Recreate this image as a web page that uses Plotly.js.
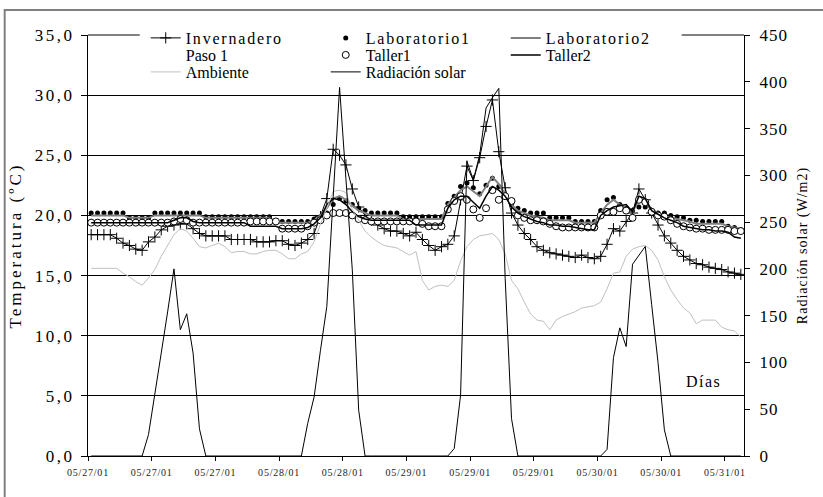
<!DOCTYPE html>
<html>
<head>
<meta charset="utf-8">
<script src="https://cdn.plot.ly/plotly-3.0.1.min.js"></script>
<style>
  html, body { margin: 0; padding: 0; background: #fff; }
  .ytick text { letter-spacing: 2.5px; }
  .y2tick text { letter-spacing: 1px; }
  .xtick text { letter-spacing: 0.8px; }
  .legendtext { letter-spacing: 1.8px; }
  .ytitle { letter-spacing: 3px; }
  .y2title { letter-spacing: 1px; }
  .annotation-text { letter-spacing: 1.5px; }
</style>
</head>
<body>
<div id="chart" style="width:823px;height:497px;"></div>
<script>
// Tick labels of the category axis (one every 10 hourly readings)
const tickPositions = [0, 10, 20, 30, 40, 50, 60, 70, 80, 90, 100];
const tickLabels = ["05/27/01","05/27/01","05/27/01","05/28/01","05/28/01","05/29/01",
                    "05/29/01","05/29/01","05/30/01","05/30/01","05/31/01"];

const invernadero = [
  18.4,18.4,18.4,18.4,18.1,17.7,17.5,17.2,17.1,17.8,
  18.2,18.8,19.1,19.2,19.3,19.3,18.9,18.5,18.3,18.3,
  18.3,18.3,18.0,18.0,18.0,18.0,17.8,17.8,17.8,17.9,
  17.9,17.6,17.5,17.7,18.0,18.5,19.9,21.4,25.5,25.0,
  24.2,22.2,20.7,20.0,19.6,19.2,18.9,18.7,18.7,18.5,
  18.3,18.6,18.0,17.5,17.1,17.4,17.6,18.3,21.3,24.1,
  22.9,24.8,27.4,29.6,25.3,22.3,20.2,19.2,18.5,18.0,
  17.4,17.1,16.9,16.8,16.7,16.6,16.5,16.7,16.5,16.4,
  16.6,17.6,18.9,18.7,19.5,20.2,22.2,21.3,20.2,19.2,
  18.3,17.7,17.1,16.6,16.3,16.0,15.9,15.7,15.6,15.5,
  15.3,15.2,15.1];

const laboratorio1 = [
  20.2,20.2,20.2,20.2,20.2,20.2,19.8,19.8,19.8,19.8,
  20.2,20.2,20.2,20.2,20.2,20.2,20.2,20.2,19.9,19.9,
  19.9,19.9,19.9,19.9,19.9,19.9,19.9,19.9,19.9,19.5,
  19.5,19.5,19.5,19.5,19.5,19.7,19.9,20.2,20.9,21.4,
  21.2,20.9,20.6,20.4,20.2,20.2,20.2,20.2,20.2,19.9,
  19.9,19.9,19.9,19.9,19.9,19.9,21.0,21.6,22.4,22.7,
  22.3,21.8,22.5,23.1,22.4,21.6,20.9,20.6,20.4,20.2,
  20.2,20.2,19.8,19.8,19.8,19.8,19.5,19.5,19.5,19.5,
  20.4,21.3,21.5,20.9,20.6,20.4,20.7,20.7,20.4,20.2,
  20.2,20.0,19.9,19.8,19.6,19.6,19.5,19.5,19.5,19.5,
  19.1,19.0,18.8];

const laboratorio2 = [
  20.0,20.0,20.0,20.0,20.0,20.0,19.8,19.8,19.8,19.8,
  20.0,20.0,20.0,20.0,20.0,20.0,20.0,20.0,19.8,19.8,
  19.8,19.8,19.8,19.8,19.8,19.8,19.8,19.8,19.8,19.4,
  19.4,19.4,19.4,19.4,19.4,19.6,20.0,20.6,21.4,21.6,
  21.3,20.8,20.4,20.2,20.0,20.0,20.0,20.0,20.0,19.7,
  19.7,19.7,19.7,19.7,19.7,19.7,20.9,21.5,22.1,22.4,
  22.0,21.6,22.4,23.2,22.6,21.7,20.9,20.4,20.2,20.0,
  19.9,19.8,19.6,19.6,19.6,19.6,19.4,19.4,19.4,19.4,
  20.2,20.9,21.3,20.9,20.6,20.3,21.3,21.2,20.5,20.2,
  20.0,19.8,19.7,19.6,19.5,19.3,19.3,19.3,19.3,19.3,
  19.1,19.0,18.9];

// "Paso 1" has a legend entry but no visible readings in the chart
const paso1 = [null];

const taller1 = [
  19.4,19.4,19.4,19.4,19.4,19.4,19.4,19.4,19.4,19.4,
  19.4,19.4,19.4,19.5,19.7,19.6,19.4,19.4,19.4,19.4,
  19.4,19.4,19.4,19.4,19.4,19.5,19.5,19.5,19.5,19.5,
  18.9,18.9,18.9,18.9,19.1,19.4,19.6,20.0,20.2,20.2,
  20.2,20.0,19.7,19.6,19.5,19.5,19.5,19.5,19.5,19.5,
  19.5,19.5,19.3,19.1,19.1,19.1,20.5,21.2,21.6,21.3,
  20.5,19.8,20.6,22.1,21.3,21.6,21.2,20.0,19.8,19.6,
  19.6,19.5,19.3,19.1,19.0,19.0,19.0,19.0,19.0,19.0,
  20.0,20.3,20.3,20.6,20.4,19.8,21.3,21.1,20.3,20.0,
  19.9,19.6,19.3,19.1,19.0,18.9,18.9,18.8,18.8,18.8,
  18.8,18.7,18.7];

const taller2 = [
  19.4,19.4,19.4,19.4,19.4,19.4,19.4,19.4,19.4,19.4,
  19.4,19.4,19.4,19.6,19.8,19.8,19.5,19.4,19.4,19.4,
  19.4,19.4,19.4,19.4,19.4,19.1,19.1,19.1,19.1,19.1,
  18.9,18.9,18.9,18.9,19.0,19.3,19.8,20.9,21.4,21.3,
  20.9,20.3,19.9,19.7,19.6,19.6,19.6,19.6,19.6,19.6,
  19.6,19.2,19.2,19.2,19.2,19.2,20.6,21.3,21.6,21.6,
  21.1,20.6,21.6,22.4,22.1,21.6,20.7,20.2,19.9,19.7,
  19.5,19.4,19.2,19.2,19.1,19.1,19.0,18.9,18.8,18.8,
  20.0,20.4,20.7,20.8,20.9,20.3,21.6,21.4,20.4,20.1,
  19.8,19.6,19.4,19.1,19.0,18.9,18.8,18.8,18.7,18.7,
  18.6,18.2,18.1];

const ambiente = [
  15.6,15.6,15.6,15.6,15.6,15.2,14.9,14.5,14.2,14.8,
  15.5,16.6,17.5,18.4,18.9,18.7,18.1,17.4,17.3,17.5,
  17.7,17.4,16.9,17.0,17.0,16.8,16.8,17.0,17.1,17.1,
  16.8,16.4,16.4,16.8,17.0,17.8,19.3,20.6,22.0,22.1,
  21.9,20.5,19.6,18.7,18.2,17.8,17.5,17.4,17.3,17.0,
  16.7,17.0,14.6,13.8,14.1,14.2,14.1,14.6,16.2,17.4,
  18.0,18.3,18.4,18.5,18.0,16.8,14.6,13.9,12.8,11.8,
  11.3,11.2,10.5,11.3,11.6,11.8,12.0,12.3,12.4,12.5,
  12.8,13.9,15.2,15.3,16.6,17.2,17.4,17.5,17.1,16.3,
  14.9,13.8,13.0,12.3,11.9,11.0,11.3,11.3,11.3,10.7,
  10.5,10.4,9.9];

const radiacion = [
  0,0,0,0,0,0,0,0,0,23,
  65,110,154,200,135,152,110,29,0,0,
  0,0,0,0,0,0,0,0,0,0,
  0,0,0,0,35,63,113,160,277,394,
  296,199,49,0,0,0,0,0,0,0,
  0,0,0,0,0,0,0,8,65,315,
  295,322,372,383,393,190,40,0,0,0,
  0,0,0,0,0,0,0,0,0,0,
  0,7,105,137,117,205,215,224,162,100,
  28,0,0,0,0,0,0,0,0,0,
  0,0,0];

// category positions (reading i sits in the middle of category slot i)
const xIdx = radiacion.map((_, i) => i + 0.5);

const FONT = '"Liberation Serif", "Times New Roman", serif';

const traces = [
  {name: 'Invernadero', x: xIdx, y: invernadero, mode: 'lines+markers', legend: 'legend',
   line: {color: '#000', width: 1},
   marker: {symbol: 'cross-thin', size: 8, color: '#000', line: {color: '#000', width: 1}}},
  {name: 'Laboratorio1', x: xIdx, y: laboratorio1, mode: 'markers', legend: 'legend',
   marker: {symbol: 'circle', size: 5, color: '#000'}},
  {name: 'Laboratorio2', x: xIdx, y: laboratorio2, mode: 'lines', legend: 'legend',
   line: {color: '#808080', width: 2}},
  {name: 'Paso 1', x: xIdx.slice(0, paso1.length), y: paso1, mode: 'lines', legend: 'legend2',
   line: {color: 'rgba(0,0,0,0)', width: 1}},
  {name: 'Taller1', x: xIdx, y: taller1, mode: 'markers', legend: 'legend2',
   marker: {symbol: 'circle', size: 7, color: '#fff', line: {color: '#000', width: 1}}},
  {name: 'Taller2', x: xIdx, y: taller2, mode: 'lines', legend: 'legend2',
   line: {color: '#000', width: 1.5}},
  {name: 'Ambiente', x: xIdx, y: ambiente, mode: 'lines', legend: 'legend3',
   line: {color: '#c0c0c0', width: 1}},
  {name: 'Radiación solar', x: xIdx, y: radiacion, mode: 'lines', legend: 'legend3', yaxis: 'y2',
   line: {color: '#000', width: 1}}
];

function legendRow(yPaper) {
  return {
    orientation: 'h', x: 0.088, xanchor: 'left', y: yPaper, yanchor: 'middle',
    bgcolor: 'rgba(0,0,0,0)', borderwidth: 0,
    font: {family: FONT, size: 16, color: '#000'},
    entrywidth: 135, entrywidthmode: 'pixels', itemwidth: 30, traceorder: 'normal'
  };
}

const layout = {
  width: 823, height: 497,
  margin: {l: 88, r: 79, t: 35, b: 41, pad: 0, autoexpand: false},
  paper_bgcolor: '#fff', plot_bgcolor: '#fff',
  separators: ',.',
  font: {family: FONT, color: '#000'},
  showlegend: true,
  xaxis: {
    range: [0, 103], tickmode: 'array', tickvals: tickPositions, ticktext: tickLabels,
    ticks: 'outside', ticklen: 4, tickcolor: '#000', tickwidth: 1, ticklabelstandoff: 3,
    showline: true, linecolor: '#000', linewidth: 1, showgrid: false, zeroline: false,
    tickfont: {family: FONT, size: 10, color: '#222'}, tickangle: 0
  },
  yaxis: {
    range: [0, 35], tick0: 0, dtick: 5, tickformat: '.1f',
    ticks: 'outside', ticklen: 6, tickcolor: '#000', ticklabelstandoff: 3,
    showline: true, linecolor: '#000', linewidth: 1,
    showgrid: true, gridcolor: '#000', gridwidth: 1, zeroline: false,
    tickfont: {family: FONT, size: 17, color: '#000'},
    title: {text: 'Temperatura (ºC)', font: {family: FONT, size: 17, color: '#000'}, standoff: 8}
  },
  yaxis2: {
    overlaying: 'y', side: 'right', anchor: 'x',
    range: [0, 450], tick0: 0, dtick: 50,
    ticks: 'outside', ticklen: 5, tickcolor: '#000', ticklabelstandoff: 6,
    showline: true, linecolor: '#000', linewidth: 1, showgrid: false, zeroline: false,
    tickfont: {family: FONT, size: 17, color: '#000'},
    title: {text: 'Radiación solar (W/m2)', font: {family: FONT, size: 14, color: '#000'}, standoff: 10}
  },
  yaxis3: {
    overlaying: 'y', side: 'right', anchor: 'x',
    range: [0, 450], tick0: 0, dtick: 50,
    ticks: 'inside', ticklen: 4, tickcolor: '#000', showticklabels: false,
    showline: false, showgrid: false, zeroline: false
  },
  legend: legendRow(0.9929),
  legend2: legendRow(0.9525),
  legend3: legendRow(0.9121),
  annotations: [
    {text: 'Días', x: 96.65, y: 6.2, xref: 'x', yref: 'y', showarrow: false,
     font: {family: FONT, size: 16, color: '#000'}}
  ],
  shapes: [
    {type: 'line', xref: 'paper', yref: 'paper', x0: 0, x1: 1, y0: 1, y1: 1,
     line: {color: '#808080', width: 2}, layer: 'above'},
    {type: 'rect', xref: 'paper', yref: 'paper', x0: 0.0788, x1: 0.905, y0: 0.99, y1: 1.01,
     fillcolor: '#fff', line: {width: 0}, layer: 'above'},
    {type: 'rect', xref: 'paper', yref: 'paper', x0: -0.127, x1: 1.2, y0: -0.3, y1: 1.0594,
     fillcolor: 'rgba(0,0,0,0)', line: {color: '#808080', width: 2}, layer: 'below'}
  ]
};

Plotly.newPlot('chart', traces, layout, {displayModeBar: false, staticPlot: true});
</script>
</body>
</html>
